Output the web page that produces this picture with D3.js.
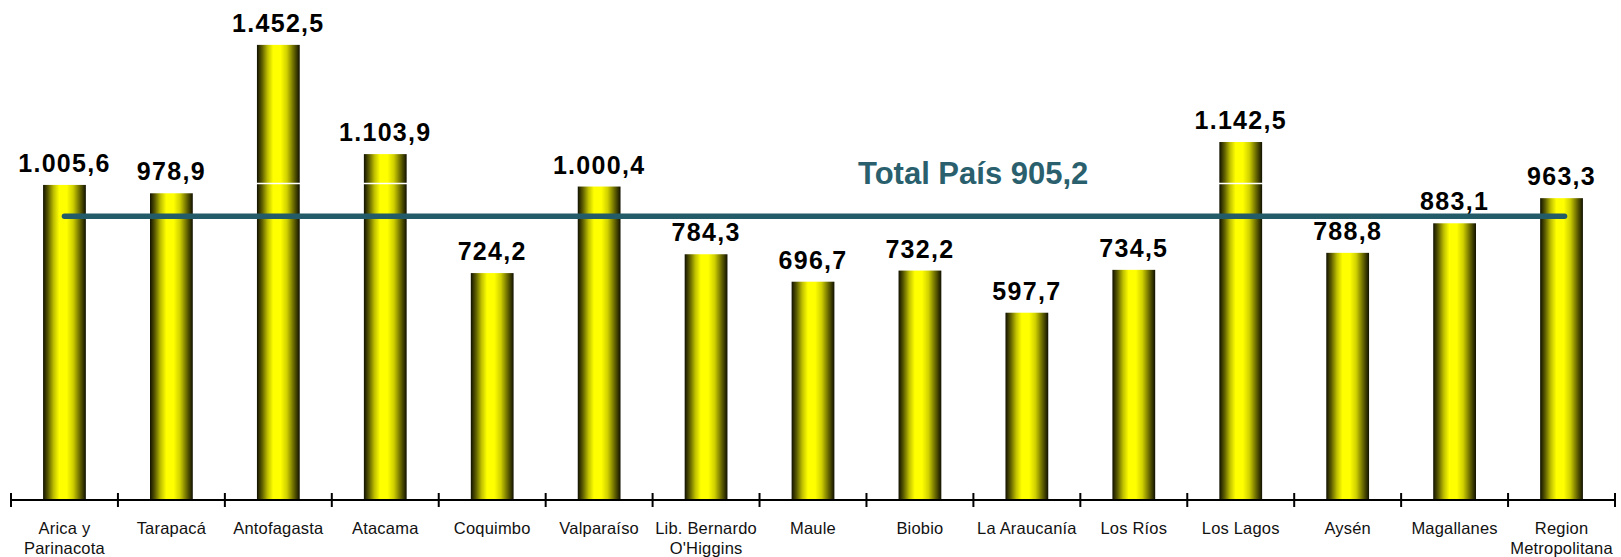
<!DOCTYPE html>
<html><head><meta charset="utf-8">
<script src="https://cdn.jsdelivr.net/npm/d3@7"></script>
<style>body{margin:0;background:#fff}svg{display:block}</style>
</head><body>
<svg id="c" width="1621" height="557"></svg>
<script>
const categories = [
  ["Arica y","Parinacota"],["Tarapacá"],["Antofagasta"],["Atacama"],["Coquimbo"],
  ["Valparaíso"],["Lib. Bernardo","O'Higgins"],["Maule"],["Biobio"],["La Araucanía"],
  ["Los Ríos"],["Los Lagos"],["Aysén"],["Magallanes"],["Region","Metropolitana"]
];
const values = [1005.6, 978.9, 1452.5, 1103.9, 724.2, 1000.4, 784.3, 696.7, 732.2, 597.7, 734.5, 1142.5, 788.8, 883.1, 963.3];
const valueLabels = ["1.005,6","978,9","1.452,5","1.103,9","724,2","1.000,4","784,3","696,7","732,2","597,7","734,5","1.142,5","788,8","883,1","963,3"];
const totalValue = 905.2;
const totalLabel = "Total País 905,2";

const svg = d3.select("#c");
const font = "Arial, 'Liberation Sans', sans-serif";
const idx = d3.range(categories.length);
const x = d3.scaleBand().domain(idx).range([11, 1615]).padding(0);
const y = d3.scaleLinear().domain([0, 1500]).range([500, 30]);
const bw = x.bandwidth() * 0.4;

const defs = svg.append("defs");
const g = defs.append("linearGradient").attr("id","cyl").attr("x1","0").attr("x2","1").attr("y1","0").attr("y2","0");
[[0,"#101000"],[0.12,"#5e5e00"],[0.25,"#c0c000"],[0.38,"#ffff00"],[0.55,"#ffff00"],[0.7,"#d0d000"],[0.85,"#6e6e00"],[1,"#101000"]]
  .forEach(([o,c]) => g.append("stop").attr("offset", o).attr("stop-color", c));

// bars
svg.selectAll("rect.bar").data(values).join("rect").attr("class","bar")
  .attr("x",(d,i)=>x(i)+x.bandwidth()/2-bw/2).attr("width",bw)
  .attr("y",d=>y(d)).attr("height",d=>y(0)-y(d)).attr("fill","url(#cyl)");

// thin white break line
svg.append("line").attr("x1",x.range()[0]).attr("x2",x.range()[1])
  .attr("y1",y(1010)).attr("y2",y(1010)).attr("stroke","#fff").attr("stroke-width",1.5);

// value labels
svg.selectAll("text.val").data(values).join("text").attr("class","val")
  .attr("x",(d,i)=>x(i)+x.bandwidth()/2).attr("y",d=>y(d)-13)
  .attr("text-anchor","middle").attr("font-family",font).attr("font-weight","bold")
  .attr("font-size",25).attr("letter-spacing",1.3).attr("fill","#000")
  .text((d,i)=>valueLabels[i]);

// total line
svg.append("line")
  .attr("x1",x(0)+x.bandwidth()/2).attr("x2",x(idx.length-1)+x.bandwidth()/2+3)
  .attr("y1",y(totalValue)).attr("y2",y(totalValue))
  .attr("stroke","#245b68").attr("stroke-width",5.5).attr("stroke-linecap","round");
svg.append("text").attr("x",858).attr("y",184)
  .attr("font-family",font).attr("font-weight","bold").attr("font-size",31)
  .attr("fill","#2a5f6d").text(totalLabel);

// axis
const axis = svg.append("g");
axis.append("line").attr("x1",x.range()[0]).attr("x2",x.range()[1]).attr("y1",y(0)).attr("y2",y(0))
  .attr("stroke","#000").attr("stroke-width",2);
const tickPos = idx.map(i=>x(i)).concat([x.range()[1]]);
axis.selectAll("line.tk").data(tickPos).join("line").attr("class","tk")
  .attr("x1",d=>d).attr("x2",d=>d).attr("y1",y(0)-7).attr("y2",y(0)+7)
  .attr("stroke","#000").attr("stroke-width",2);
const lab = axis.selectAll("text.cat").data(categories).join("text").attr("class","cat")
  .attr("text-anchor","middle").attr("font-family",font).attr("font-size",16.5)
  .attr("letter-spacing",0.2).attr("fill","#111");
lab.each(function(d,i){
  const t = d3.select(this);
  d.forEach((s,k)=>t.append("tspan").attr("x",x(i)+x.bandwidth()/2).attr("y",534+k*20).text(s));
});
</script>
</body></html>
